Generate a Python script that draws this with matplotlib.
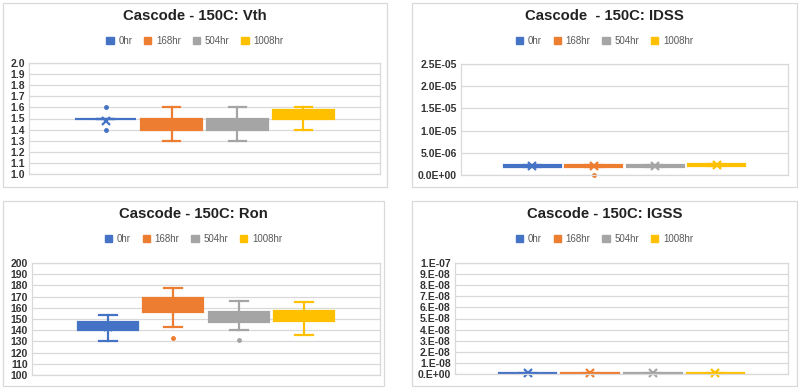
import matplotlib
matplotlib.use("Agg")
import matplotlib.pyplot as plt
from matplotlib.patches import Rectangle, Patch

plt.rcParams["font.family"] = ["Liberation Sans", "DejaVu Sans"]

SERIES = ["0hr", "168hr", "504hr", "1008hr"]
COLORS = ["#4472C4", "#ED7D31", "#A5A5A5", "#FFC000"]

# Vth (V)
VTH_LO = [1.5, 1.3, 1.3, 1.4]
VTH_Q1 = [1.5, 1.4, 1.4, 1.5]
VTH_MED = [1.5, 1.5, 1.5, 1.5]
VTH_Q3 = [1.5, 1.5, 1.5, 1.58]
VTH_HI = [1.5, 1.6, 1.6, 1.6]
VTH_MEAN = [1.48, 1.45, 1.45, 1.53]
VTH_FLIERS = [[1.4, 1.6], [], [], []]
VTH_TICKS = [1.0, 1.1, 1.2, 1.3, 1.4, 1.5, 1.6, 1.7, 1.8, 1.9, 2.0]
VTH_LABELS = ["1.0", "1.1", "1.2", "1.3", "1.4", "1.5", "1.6", "1.7", "1.8", "1.9", "2.0"]

# IDSS (A)
IDSS_LO = [1.8e-6, 1.8e-6, 1.8e-6, 2.0e-6]
IDSS_Q1 = [1.85e-6, 1.85e-6, 1.85e-6, 2.05e-6]
IDSS_MED = [2.0e-6, 2.0e-6, 2.0e-6, 2.2e-6]
IDSS_Q3 = [2.15e-6, 2.2e-6, 2.15e-6, 2.4e-6]
IDSS_HI = [2.2e-6, 2.25e-6, 2.2e-6, 2.45e-6]
IDSS_MEAN = [2.0e-6, 2.0e-6, 2.0e-6, 2.2e-6]
IDSS_FLIERS = [[], [0.0], [], []]
IDSS_TICKS = [0.0, 5e-6, 1e-5, 1.5e-5, 2e-5, 2.5e-5]
IDSS_LABELS = ["0.0E+00", "5.0E-06", "1.0E-05", "1.5E-05", "2.0E-05", "2.5E-05"]

# Ron (mOhm)
RON_LO = [130, 143, 140.5, 135.5]
RON_Q1 = [140, 156, 147, 148]
RON_MED = [143, 162, 151, 152]
RON_Q3 = [147.5, 168.5, 156, 157.5]
RON_HI = [154, 177.5, 166, 165]
RON_MEAN = [143, 162, 151, 152]
RON_FLIERS = [[], [133], [131], []]
RON_TICKS = [100, 110, 120, 130, 140, 150, 160, 170, 180, 190, 200]
RON_LABELS = ["100", "110", "120", "130", "140", "150", "160", "170", "180", "190", "200"]

# IGSS (A)
IGSS_LO = [0.0, 0.0, 0.0, 0.0]
IGSS_Q1 = [0.2e-9, 0.2e-9, 0.2e-9, 0.2e-9]
IGSS_MED = [0.6e-9, 0.6e-9, 0.6e-9, 0.6e-9]
IGSS_Q3 = [1.0e-9, 1.0e-9, 1.0e-9, 1.0e-9]
IGSS_HI = [1.2e-9, 1.2e-9, 1.2e-9, 1.2e-9]
IGSS_MEAN = [1.2e-9, 1.2e-9, 1.2e-9, 1.2e-9]
IGSS_FLIERS = [[], [], [], []]
IGSS_TICKS = [0, 1e-8, 2e-8, 3e-8, 4e-8, 5e-8, 6e-8, 7e-8, 8e-8, 9e-8, 1e-7]
IGSS_LABELS = ["0.E+00", "1.E-08", "2.E-08", "3.E-08", "4.E-08", "5.E-08",
               "6.E-08", "7.E-08", "8.E-08", "9.E-08", "1.E-07"]

GRID = "#D9D9D9"
W, H = 800, 388


def fx(px):
    return px / W


def fy(py):
    return 1 - py / H


def panel(fig, box, plot, title, lo, q1, med, q3, hi, mean, fliers, ticks, labels):
    # box/plot in pixel coords: (x0, y0, x1, y1), y measured from top
    bx0, by0, bx1, by1 = box
    fig.patches.append(Rectangle((fx(bx0), fy(by1)), fx(bx1 - bx0), (by1 - by0) / H,
                                 transform=fig.transFigure, fill=False,
                                 edgecolor=GRID, lw=0.9))
    px0, py0, px1, py1 = plot
    ax = fig.add_axes([fx(px0), fy(py1), fx(px1 - px0), (py1 - py0) / H])
    for i, c in enumerate(COLORS):
        st = [dict(whislo=lo[i], q1=q1[i], med=med[i], q3=q3[i], whishi=hi[i],
                   mean=mean[i], fliers=fliers[i])]
        art = ax.bxp(st, positions=[i], widths=0.92, capwidths=0.27,
                     patch_artist=True, showmeans=True,
                     boxprops=dict(facecolor=c, edgecolor=c, lw=1.6),
                     medianprops=dict(color=c, lw=1.2),
                     whiskerprops=dict(color=c, lw=1.6),
                     capprops=dict(color=c, lw=1.6),
                     meanprops=dict(marker="x", markeredgecolor=c,
                                    markersize=6, markeredgewidth=1.6),
                     flierprops=dict(marker="o", markerfacecolor=c,
                                     markeredgecolor=c, markersize=2.5))
        for fl in art["fliers"]:
            fl.set_clip_on(False)
        for m in art["means"]:
            m.set_clip_on(False)
    ax.set_xlim(-1.16, 4.16)
    ax.set_ylim(ticks[0], ticks[-1])
    ax.set_yticks(ticks)
    ax.set_yticklabels(labels, fontsize=7.5, fontweight="bold", color="#333333")
    ax.set_xticks([])
    ax.tick_params(axis="y", length=0, pad=3)
    ax.grid(axis="y", color=GRID, lw=0.9)
    ax.set_axisbelow(True)
    for s in ax.spines.values():
        s.set_color(GRID)
        s.set_linewidth(0.9)
    cx = (bx0 + bx1) / 2
    fig.text(fx(cx), fy(by0 + 13), title, ha="center", va="center",
             fontsize=10.7, fontweight="bold", color="#222222")
    handles = [Patch(facecolor=c, edgecolor=c, label=s) for s, c in zip(SERIES, COLORS)]
    fig.legend(handles=handles, loc="center", bbox_to_anchor=(fx(cx), fy(by0 + 38)),
               ncol=4, frameon=False, fontsize=7, labelcolor="#595959",
               handlelength=0.75, handleheight=0.75, handletextpad=0.5,
               columnspacing=1.2, borderaxespad=0)
    return ax


fig = plt.figure(figsize=(8, 3.88), dpi=100)

panel(fig, (3, 3, 387, 187), (29, 63, 380, 174), "Cascode - 150C: Vth",
      VTH_LO, VTH_Q1, VTH_MED, VTH_Q3, VTH_HI, VTH_MEAN, VTH_FLIERS,
      VTH_TICKS, VTH_LABELS)
panel(fig, (412, 3, 797, 187), (461, 64, 788, 175), "Cascode  - 150C: IDSS",
      IDSS_LO, IDSS_Q1, IDSS_MED, IDSS_Q3, IDSS_HI, IDSS_MEAN, IDSS_FLIERS,
      IDSS_TICKS, IDSS_LABELS)
panel(fig, (3, 201, 384, 386), (32, 263, 380, 375), "Cascode - 150C: Ron",
      RON_LO, RON_Q1, RON_MED, RON_Q3, RON_HI, RON_MEAN, RON_FLIERS,
      RON_TICKS, RON_LABELS)
panel(fig, (412, 201, 797, 386), (455, 263, 788, 374), "Cascode - 150C: IGSS",
      IGSS_LO, IGSS_Q1, IGSS_MED, IGSS_Q3, IGSS_HI, IGSS_MEAN, IGSS_FLIERS,
      IGSS_TICKS, IGSS_LABELS)

fig.savefig("out.png", dpi=100)
